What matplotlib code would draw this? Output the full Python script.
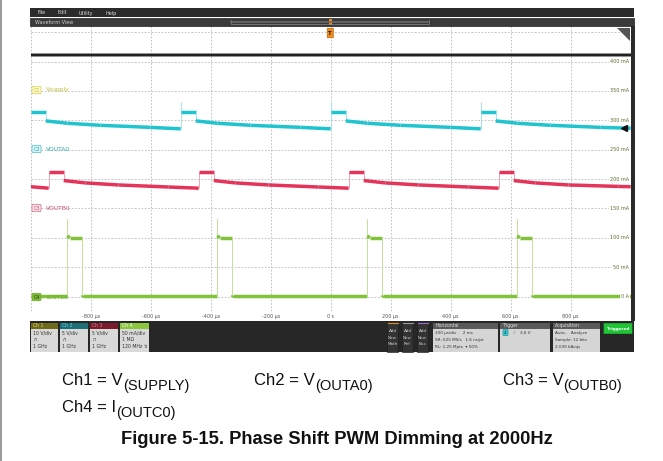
import matplotlib
matplotlib.use("Agg")
import matplotlib.pyplot as plt
from matplotlib.collections import LineCollection
from matplotlib.patches import Rectangle, FancyBboxPatch, Polygon
import numpy as np

# ---- waveform data (time in us, level in screen divisions) ----
black_t = [-1000, 1000]
black_v = [8.22, 8.22]

cyan_t = [-1000, -950, -950, -878, -767, -600, -500, -500, -500, -450, -450, -378,
          -267, -100, 0, 0, 0, 50, 50, 122, 233, 400, 500, 500, 500, 550, 550, 622,
          733, 900, 1000]
cyan_v = [6.27, 6.27, 5.98, 5.90, 5.83, 5.76, 5.71, 6.63, 6.27, 6.27, 5.98, 5.90,
          5.83, 5.76, 5.71, 6.63, 6.27, 6.27, 5.98, 5.90, 5.83, 5.76, 5.71, 6.63, 6.27,
          6.27, 5.98, 5.90, 5.83, 5.76, 5.73]

red_t = [-1000, -940, -940, -890, -890, -818, -707, -540, -440, -440, -390, -390,
         -318, -207, -40, 60, 60, 110, 110, 182, 293, 460, 560, 560, 610, 610, 682,
         793, 960, 1000]
red_v = [3.74, 3.69, 4.25, 4.25, 3.95, 3.87, 3.80, 3.73, 3.69, 4.25, 4.25, 3.95,
         3.87, 3.80, 3.73, 3.69, 4.25, 4.25, 3.95, 3.87, 3.80, 3.73, 3.69, 4.25, 4.25,
         3.95, 3.87, 3.80, 3.75, 3.74]

# Ch4 current in mA (50 mA/div)
green_t = [-1000, -878, -878, -878, -870, -828, -828, -826, -378, -378, -378, -370,
           -328, -328, -326, 122, 122, 122, 130, 172, 172, 174, 622, 622, 622, 630,
           672, 672, 674, 1000]
green_ma = [1.5, 1.5, 131.5, 103.5, 100, 100, -1, 1.5, 1.5, 131.5, 103.5, 100,
            100, -1, 1.5, 1.5, 131.5, 103.5, 100, 100, -1, 1.5, 1.5, 131.5, 103.5,
            100, 100, -1, 1.5, 1.5]

time_ticks = [-800, -600, -400, -200, 0, 200, 400, 600, 800]
time_labels = ["-800 µs", "-600 µs", "-400 µs", "-200 µs", "0 s", "200 µs",
               "400 µs", "600 µs", "800 µs"]
amp_ticks = [0, 1, 2, 3, 4, 5, 6, 7, 8]
amp_labels = ["0 A", "50 mA", "100 mA", "150 mA", "200 mA", "250 mA", "300 mA",
              "350 mA", "400 mA"]

W, H = 663, 461
fig = plt.figure(figsize=(W / 100, H / 100), dpi=100)
fig.patch.set_facecolor("white")


def fr(x0, y0, x1, y1):
    return [x0 / W, 1 - y1 / H, (x1 - x0) / W, (y1 - y0) / H]


# plot area
ax = fig.add_axes(fr(30.7, 26, 630.7, 321))
ax.set_xlim(-1000, 1000)
ax.set_ylim(-0.83, 9.21)
ax.set_facecolor("white")
for s in ax.spines.values():
    s.set_visible(False)
ax.set_xticks([])
ax.set_yticks([])

grid_kw = dict(color="#b8b8b8", lw=0.6, ls=(0, (2, 2)), zorder=1)
for gx in [-1000] + time_ticks:
    ax.plot([gx, gx], [-0.5, 9.21], **grid_kw)
for gy in range(10):
    ax.plot([-1000, 1000], [gy, gy], **grid_kw)


def trace(t, v, main, light, lw=2.5):
    pts = np.column_stack([t, v])
    segs, lws, cols = [], [], []
    for a, b in zip(pts[:-1], pts[1:]):
        segs.append([a, b])
        if a[0] == b[0]:
            lws.append(0.7)
            cols.append(light)
        else:
            lws.append(lw)
            cols.append(main)
    ax.add_collection(LineCollection(segs, linewidths=lws, colors=cols,
                                     capstyle="butt", zorder=3))


ax.plot(black_t, black_v, color="#444444", lw=2.6, alpha=0.7, zorder=3)
ax.plot(black_t, black_v, color="#111111", lw=1.2, zorder=3)
trace(cyan_t, cyan_v, "#1fc4ce", "#a6e5ea")
trace(red_t, red_v, "#e5345a", "#f3a2b4")
trace(green_t, np.array(green_ma) / 50.0, "#82c23a", "#c2e398")

# trigger level marker
ax.plot([978], [5.73], marker="<", ms=4.5, color="#111111", zorder=5)

# right amplitude labels
for yv, lab in zip(amp_ticks, amp_labels):
    ax.text(995, yv, lab, ha="right", va="center", fontsize=3.5, color="#5b6b2e",
            bbox=dict(boxstyle="square,pad=0.15", fc="white", ec="none"), zorder=4)
# time labels
for tv, lab in zip(time_ticks, time_labels):
    ax.text(tv, -0.68, lab, ha="center", va="center", fontsize=3.5, color="#555555",
            zorder=4)

# ---- overlay in pixel coordinates ----
ov = fig.add_axes([0, 0, 1, 1])
ov.set_xlim(0, W)
ov.set_ylim(H, 0)
ov.axis("off")
ov.patch.set_alpha(0)

ov.plot([1, 1], [0, H], color="#9a9a9a", lw=1.4)

# menu + waveform view bars
ov.add_patch(Rectangle((30, 8.5), 604, 9, fc="#2b2b2b", ec="none"))
ov.add_patch(Rectangle((30, 18), 604, 8, fc="#3a3a3a", ec="#202020", lw=0.5))
for x, s in [(37, "File"), (57, "Edit"), (79, "Utility"), (105, "Help")]:
    ov.text(x, 13, s, fontsize=3.5, color="#dddddd", va="center")
ov.text(35, 22, "Waveform View", fontsize=3.5, color="#cfcfcf", va="center")
ov.plot([231, 231, 429, 429], [20, 24, 24, 20], color="#8a8a8a", lw=0.5)
ov.plot([231, 429], [22, 22], color="#6a6a6a", lw=1.2)
ov.add_patch(Rectangle((328.5, 19), 3.5, 6, fc="#f08a1c", ec="none"))
# right dark strip
ov.add_patch(Rectangle((630.7, 26), 4, 295, fc="#2b2b2b", ec="none"))
# trigger position marker
ov.add_patch(FancyBboxPatch((327.5, 28.5), 5.5, 9, boxstyle="round,pad=0.3",
                            fc="#f08a1c", ec="#b55a00", lw=0.4))
ov.text(330.3, 33.2, "T", fontsize=4, color="#222222", ha="center", va="center",
        fontweight="bold")
# zoom corner icon
ov.add_patch(Polygon([[617, 28], [630, 28], [630, 41]], closed=True, fc="#555555",
                     ec="none"))

# channel tags
tags = [(90, "C1", "Vsupply", "#fbf8c8", "#c9c43c", "#c2bd2e"),
        (149, "C2", "VOUTA0", "#d8f4f6", "#2aaab3", "#2aaab3"),
        (208, "C3", "VOUTB0", "#fbe0e6", "#c8506a", "#c8506a"),
        (297, "C4", "IOUTC0", "#7fbf33", "#5f9f22", "#6aaa2a")]
for y, c, name, fc, ec, tc in tags:
    ov.text(36.5, y, c, fontsize=3.6, ha="center", va="center",
            color="#333333" if c == "C4" else ec,
            bbox=dict(boxstyle="round,pad=0.25", fc=fc, ec=ec, lw=0.4))
    ov.text(46, y, name, fontsize=4.3, va="center", color=tc)

# bottom status panel
ov.add_patch(Rectangle((30, 321), 604, 31, fc="#272727", ec="none"))
chans = [(31, 58, "Ch 1", "#6d6a1c", "#e9e25a", ["10 V/div", "∩", "1 GHz"]),
         (60, 88, "Ch 2", "#1e6e76", "#5fdbe3", ["5 V/div", "∩", "1 GHz"]),
         (90, 118, "Ch 3", "#7a1c2b", "#f07a90", ["5 V/div", "∩", "1 GHz"]),
         (120, 149, "Ch 4", "#8cc63e", "#ffffff", ["50 mA/div", "1 MΩ", "120 MHz ↯"])]
for x0, x1, name, hc, htc, lines in chans:
    ov.add_patch(Rectangle((x0, 322.5), x1 - x0, 6, fc=hc, ec="none"))
    ov.add_patch(Rectangle((x0, 328.5), x1 - x0, 23, fc="#d9d9d9", ec="none"))
    ov.text(x0 + 2, 325.6, name, fontsize=3.3, color=htc, va="center")
    for i, s in enumerate(lines):
        ov.text(x0 + 2, 332.5 + i * 7, s, fontsize=3.3, color="#333333", va="center")

for x0, c, s in [(387, "#e08a2a", "Math"), (402, "#9a9a9a", "Ref"), (417, "#9b6ad0", "Bus")]:
    ov.add_patch(Rectangle((x0, 322.5), 11, 29, fc="#333333", ec="#1a1a1a", lw=0.4))
    ov.plot([x0 + 0.5, x0 + 10.5], [323.2, 323.2], color=c, lw=0.8)
    for i, w in enumerate(["Add", "New", s]):
        ov.text(x0 + 5.5, 331 + i * 6.5, w, fontsize=3.0, color="#cccccc",
                ha="center", va="center")

boxes = [(433, 498, "Horizontal", ["200 µs/div     2 ms", "SR: 625 MS/s   1.6 ns/pt",
                                    "RL: 1.25 Mpts  ▾ 50%"]),
         (500, 550, "Trigger", ["", "", ""]),
         (553, 600, "Acquisition", ["Auto,    Analyze", "Sample: 12 bits",
                                    "2.039 kAcqs"])]
for x0, x1, name, lines in boxes:
    ov.add_patch(Rectangle((x0, 322.5), x1 - x0, 6, fc="#5a5a5a", ec="none"))
    ov.add_patch(Rectangle((x0, 328.5), x1 - x0, 23, fc="#d5d5d5", ec="none"))
    ov.text(x0 + 2, 325.6, name, fontsize=3.3, color="#e0e0e0", va="center")
    for i, s in enumerate(lines):
        ov.text(x0 + 2, 332.5 + i * 7, s, fontsize=3.0, color="#333333", va="center")
ov.text(505.5, 332.5, "2", fontsize=3.0, color="#1a1a1a", ha="center", va="center",
        bbox=dict(boxstyle="round,pad=0.3", fc="#38c9d3", ec="#1a8a93", lw=0.4))
ov.text(514, 332.5, "⁄     3.6 V", fontsize=3.0, color="#333333", va="center")
ov.add_patch(FancyBboxPatch((604, 323.5), 28, 10, boxstyle="round,pad=0.3",
                            fc="#1fc437", ec="none"))
ov.text(618, 328.5, "Triggered", fontsize=3.0, color="white", ha="center",
        va="center", fontweight="bold")

# caption block
fam = "Liberation Sans"
r = fig.canvas.get_renderer()


def ch_label(x, y, main, sub):
    t = ov.text(x, y, main, fontsize=12, family=fam, va="baseline", color="#111111")
    bb = t.get_window_extent(r)
    xe = ov.transData.inverted().transform((bb.x1, bb.y0))[0]
    ov.text(xe, y + 5, sub, fontsize=10.5, family=fam, va="baseline", color="#111111")


ch_label(62, 385, "Ch1 = V", "(SUPPLY)")
ch_label(254, 385, "Ch2 = V", "(OUTA0)")
ch_label(503, 385, "Ch3 = V", "(OUTB0)")
ch_label(62, 412, "Ch4 = I", "(OUTC0)")
ov.text(337, 439, "Figure 5-15. Phase Shift PWM Dimming at 2000Hz", fontsize=13.2,
        family=fam, fontweight="bold", ha="center", va="center", color="#111111")

fig.savefig("out.png", dpi=100)
